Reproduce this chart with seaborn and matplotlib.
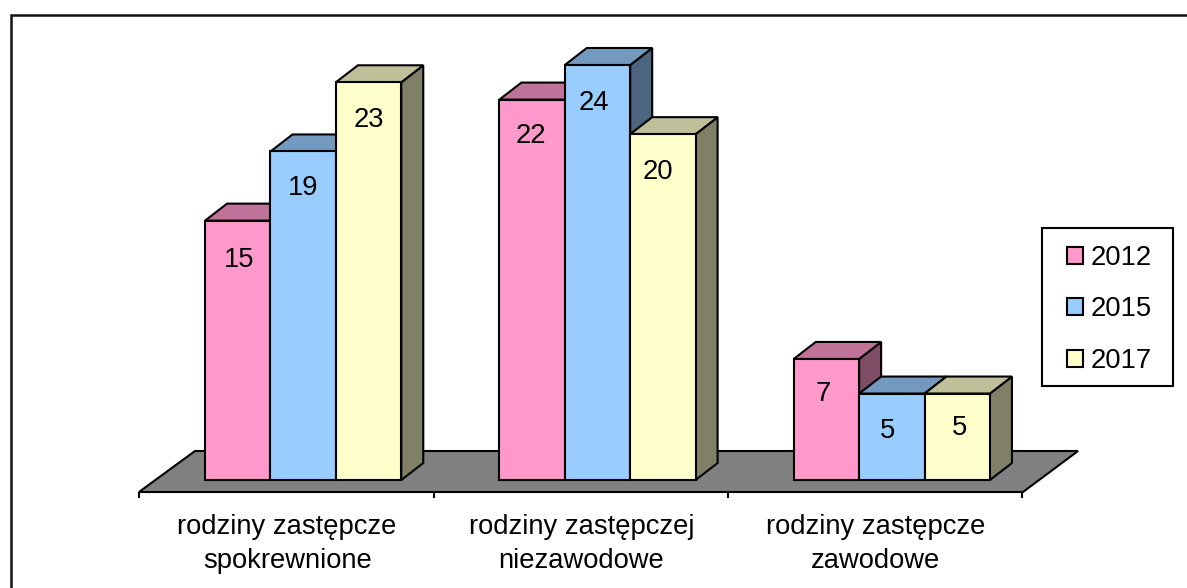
import matplotlib
matplotlib.use('Agg')
import matplotlib.pyplot as plt
from matplotlib.lines import Line2D
from matplotlib.patches import Polygon, Rectangle
from matplotlib.transforms import ScaledTranslation
import pandas as pd
import seaborn as sns

# Data
categories = ['rodziny zastępcze\nspokrewnione', 'rodziny zastępczej\nniezawodowe', 'rodziny zastępcze\nzawodowe']
years = ['2012', '2015', '2017']
values_2012 = [15, 22, 7]
values_2015 = [19, 24, 5]
values_2017 = [23, 20, 5]

front_colors = ['#FF99CC', '#99CCFF', '#FFFFCC']
top_colors = ['#BF7399', '#7399BF', '#BFBF99']
side_colors = ['#804D66', '#4D6680', '#808066']

W, H = 1187, 588

sns.set_theme(style='white')
plt.rcParams['font.family'] = ['Liberation Sans', 'DejaVu Sans']
FS = 19.7
EDGE = 1.5

df = pd.DataFrame({
    'category': categories * 3,
    'year': [y for y in years for _ in categories],
    'value': values_2012 + values_2015 + values_2017,
})

fig = plt.figure(figsize=(W / 100, H / 100), dpi=100, facecolor='white')
# axes spans the front plane of the bars: y=0 at pixel 480, y=24 at pixel 65
ax = fig.add_axes([156 / W, (H - 480) / H, 883 / W, 415 / H])
ax.patch.set_alpha(0)

sns.barplot(data=df, x='category', y='value', hue='year', palette=front_colors,
            width=2 / 3, gap=0, edgecolor='black', linewidth=EDGE, saturation=1, ax=ax)
ax.set_xlim(-0.5, 2.5)
ax.set_ylim(0, 24)
ax.set_xlabel('')
ax.set_ylabel('')
ax.set_yticks([])
sns.despine(ax=ax, left=True, bottom=True)

# pixels to data units
px_x = 3 / 883
px_y = 24 / 415
depth_x = 22 * px_x
depth_y = 17 * px_y

# grey floor
floor = [(-0.5 - 17 * px_x, -12 * px_y), (2.5 - 16 * px_x, -12 * px_y),
         (2.5 + 39 * px_x, 29 * px_y), (-0.5 + 39 * px_x, 29 * px_y)]
ax.add_patch(Polygon(floor, closed=True, facecolor='#808080', edgecolor='black',
                     linewidth=EDGE, clip_on=False, zorder=1))
for k in range(4):
    tick_x = -0.5 + k - 16.5 * px_x
    ax.plot([tick_x, tick_x], [-12 * px_y, -18 * px_y], color='black', lw=EDGE,
            clip_on=False, zorder=1, solid_capstyle='butt')

# side and top faces for every bar, later bars cover earlier ones
label_nudges = [(1, 0), (0, 3), (0, 2), (-1, 3), (-4, 1), (-5, 2), (-3, 4), (-4, 2), (2, 5)]
for i, container in enumerate(ax.containers):
    for j, bar in enumerate(container):
        x0 = bar.get_x()
        x1 = x0 + bar.get_width()
        h = bar.get_height()
        z = 3 + j * 10 + i * 2
        bar.set_zorder(z + 1)
        bar.set_clip_on(False)
        ax.add_patch(Polygon([(x1, 0), (x1 + depth_x, depth_y), (x1 + depth_x, h + depth_y), (x1, h)],
                             closed=True, facecolor=side_colors[i], edgecolor='black',
                             linewidth=EDGE, clip_on=False, zorder=z))
        ax.add_patch(Polygon([(x0, h), (x0 + depth_x, h + depth_y), (x1 + depth_x, h + depth_y), (x1, h)],
                             closed=True, facecolor=top_colors[i], edgecolor='black',
                             linewidth=EDGE, clip_on=False, zorder=z))
        nx, ny = label_nudges[j * 3 + i]
        ax.annotate(f'{h:.0f}', (x0 + bar.get_width() / 2, h),
                    xytext=(nx * 0.72, (-39.5 + ny) * 0.72), textcoords='offset points',
                    ha='center', va='center', fontsize=FS, color='black', zorder=z + 2)

# category labels are centred under the floor ticks, not under the bars
ax.set_xticks(range(len(categories)), categories)
ax.tick_params(axis='x', length=0, pad=24.5, labelsize=FS, labelcolor='black')
for lab in ax.get_xticklabels():
    lab.set_linespacing(1.38)
    lab.set_transform(lab.get_transform() + ScaledTranslation(-16 / 100, 0, fig.dpi_scale_trans))

# legend: frame drawn apart so its padding can differ in x and y
fig.add_artist(Rectangle((1042 / W, 1 - 386 / H), 131 / W, 158 / H, transform=fig.transFigure,
                         facecolor='white', edgecolor='black', linewidth=EDGE, zorder=5))
handles, labels = ax.get_legend_handles_labels()
leg = ax.legend(handles, labels, loc='upper left', bbox_to_anchor=(1067 / W, 1 - 245 / H),
                bbox_transform=fig.transFigure, borderaxespad=0, frameon=False, borderpad=0,
                fontsize=FS, handlelength=0.59, handleheight=0.59, handletextpad=0.29,
                labelspacing=0.93, labelcolor='black')
leg.set_zorder(100)
ax.set_zorder(6)

# outer chart frame, cut by the image at the right and the bottom
fig.add_artist(Line2D([10.5 / W, 10.5 / W, 1], [0, 1 - 15 / H, 1 - 15 / H], color='#111111', lw=1.8,
                      solid_joinstyle='miter'))

fig.savefig('out.png', dpi=100)
